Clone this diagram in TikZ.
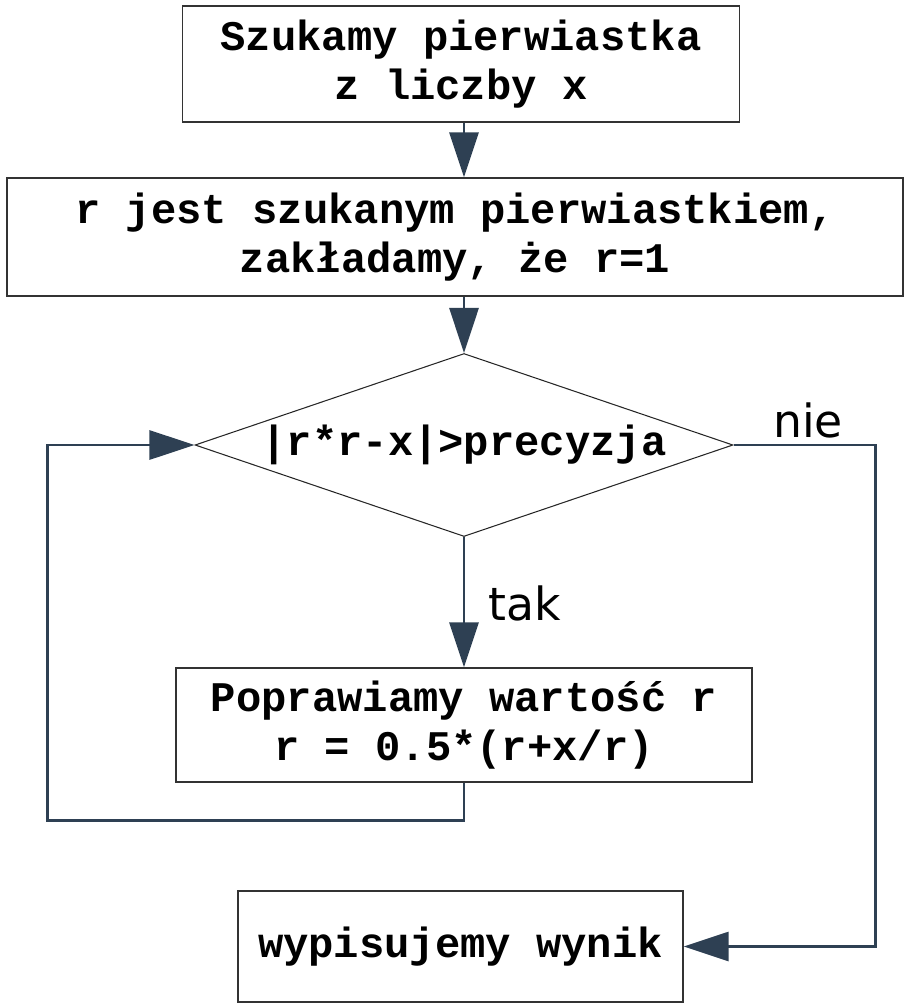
\documentclass[tikz,border=0pt]{standalone}
\usepackage{fontspec}
\newfontfamily\codefont{Liberation Mono}
\newfontfamily\labelfont{DejaVu Sans}
\usetikzlibrary{shapes.geometric,arrows.meta}
\definecolor{flowline}{RGB}{46,64,83}

\begin{document}
\begin{tikzpicture}[
  stepbox/.style={draw=black!80, line width=0.8pt, fill=white, align=center,
                  inner sep=0pt, font=\codefont\bfseries\fontsize{24}{27.5}\selectfont},
  decision/.style={diamond, draw=black!85, line width=0.6pt, aspect=2.94,
                   inner sep=0pt, minimum width=10.76cm, minimum height=3.66cm,
                   font=\codefont\bfseries\fontsize{24}{27.5}\selectfont},
  flow/.style={draw=flowline, line width=1.7pt,
               -{Triangle[length=0.9cm,width=0.58cm]}},
  answer/.style={font=\labelfont\fontsize{26}{30}\selectfont}
]
\useasboundingbox (0,0) rectangle (18.14,-20.06);

\node[stepbox, minimum width=11.14cm, minimum height=2.32cm] (start) at (9.22,-1.28)
  {Szukamy pierwiastka\\z liczby x};
\node[stepbox, minimum width=17.92cm, minimum height=2.36cm] (init) at (9.10,-4.74)
  {r jest szukanym pierwiastkiem,\\zakładamy, że r=1};
\node[decision] (check) at (9.28,-8.90) {|r*r-x|>precyzja};
\node[stepbox, minimum width=11.52cm, minimum height=2.28cm] (improve) at (9.28,-14.50)
  {Poprawiamy wartość r\\r = 0.5*(r+x/r)};
\node[stepbox, minimum width=8.90cm, minimum height=2.22cm] (result) at (9.21,-18.93)
  {wypisujemy wynik};

\node[answer] (no) at (16.16,-8.40) {nie};
\node[answer] (yes) at (10.50,-12.06) {tak};

\draw[flow] (check.north |- start.south) -- (check.north |- init.north);
\draw[flow] (check.north |- init.south) -- (check.north);
\draw[flow] (check.south) -- (improve.north);
% petla z powrotem do warunku
\draw[flow] (improve.south) -- ++(0,-0.76) -| ([xshift=-2.94cm]check.west) -- (check.west);
\draw[flow] (check.east) -- ++(2.84,0) |- (result.east);
\end{tikzpicture}
\end{document}
